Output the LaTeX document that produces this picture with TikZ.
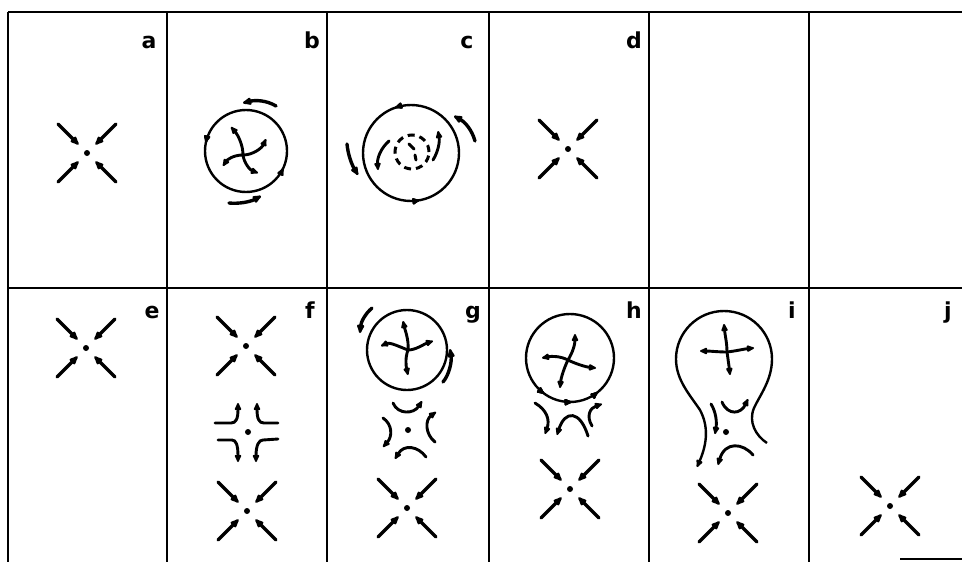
\documentclass[tikz,border=0pt]{standalone}
\usepackage{fontspec}
\setsansfont{DejaVu Sans}
\usetikzlibrary{arrows.meta,decorations.markings}
\begin{document}
\begin{tikzpicture}[x=1pt,y=-1pt,
  frame/.style={line width=2.7pt},
  flow/.style={line width=3.4pt, line cap=round, -{Latex[round,length=12pt,width=9pt]}},
  swirl/.style={line width=2.9pt, line cap=round, -{Latex[round,length=10pt,width=8pt]}},
  ring/.style={line width=2.4pt},
  ringtip/.style={postaction={decorate}, decoration={markings, mark=at position #1 with {\arrow{Latex[round,length=10pt,width=8pt]}}}},
  tag/.style={font=\sffamily\bfseries\fontsize{22}{22}\selectfont, anchor=base, inner sep=0pt},
  sink/.pic={
    \fill (0,0) circle (3);
    \foreach \a in {45,135,225,315} \draw[flow] (\a:41) -- (\a:12);
  }
]
\useasboundingbox (0,0) rectangle (962,562);

% ---------- panel frame ----------
\draw[frame] (8,12) -- (962,12);
\draw[frame] (8,288) -- (962,288);
\foreach \x in {8,167,327,489,649,809} \draw[frame] (\x,12) -- (\x,562);
\draw[line width=2pt] (900,559) -- (962,559);

% ---------- panel letters ----------
\node[tag] (la) at (149,48) {a};
\node[tag] (lb) at (312,48) {b};
\node[tag] (lc) at (467,48) {c};
\node[tag] (ld) at (634,48) {d};
\node[tag] (le) at (152,318) {e};
\node[tag] (lf) at (310,318) {f};
\node[tag] (lg) at (473,318) {g};
\node[tag] (lh) at (634,318) {h};
\node[tag] (li) at (792,318) {i};
\node[tag] (lj) at (948,318) {j};

% ---------- a ----------
\pic at (87,153) {sink};

% ---------- b : ring with swirl ----------
\draw[ring, ringtip=0.467, ringtip=0.93] (287,151) arc[start angle=0, end angle=-360, radius=41];
\draw[swirl] (243,155) .. controls (243,145) and (238,135) .. (231,127);
\draw[swirl] (243,155) .. controls (253,155) and (262,148) .. (266,139);
\draw[swirl] (243,155) .. controls (233,155) and (227,160) .. (223,166);
\draw[swirl] (243,155) .. controls (244,163) and (250,170) .. (258,173);
\draw[flow] (276,106) .. controls (266,100) and (255,100) .. (243,103);
\draw[flow] (229,203) .. controls (238,204) and (250,202) .. (261,196);

% ---------- c : ring with broken swirl ----------
\draw[ring, ringtip=0.303, ringtip=0.778] (459,153) arc[start angle=0, end angle=-360, radius=48];
\draw[flow] (475,141) .. controls (472,130) and (465,122) .. (454,116);
\draw[flow] (347,144) .. controls (348,155) and (352,165) .. (358,175);
\draw[swirl] (389,141) .. controls (381,148) and (377,158) .. (378,170);
\draw[swirl] (433,160) .. controls (438,152) and (440,142) .. (438,131);
\draw[line width=3pt, dash pattern=on 7pt off 5pt] (429,152) arc[start angle=0, end angle=-360, radius=17];
\draw[line width=3pt, line cap=round] (409,144) -- (414,149);
\draw[line width=3pt, line cap=round] (415,155) -- (416,160);

% ---------- d ----------
\pic at (568,149) {sink};

% ---------- e ----------
\pic at (86,348) {sink};

% ---------- f ----------
\pic at (246,346) {sink};
\fill (248,432) circle (3);
\draw[swirl] (215,423) -- (231,423) .. controls (236,423) and (238,419) .. (238,403);
\draw[swirl] (278,423) -- (264,423) .. controls (259,423) and (257,419) .. (257,403);
\draw[swirl] (218,440) -- (232,440) .. controls (236,440) and (238,445) .. (238,462);
\draw[swirl] (278,439) -- (263,440) .. controls (259,440) and (256,445) .. (256,462);
\pic at (247,511) {sink};

% ---------- g ----------
\draw[ring] (447,350) arc[start angle=0, end angle=-360, radius=40];
\draw[swirl] (408,350) .. controls (409,340) and (405,330) .. (403,321);
\draw[swirl] (408,350) .. controls (416,350) and (424,344) .. (433,341);
\draw[swirl] (408,350) .. controls (400,347) and (390,342) .. (381,346);
\draw[swirl] (408,350) .. controls (405,358) and (406,366) .. (408,375);
\draw[flow] (372,308) .. controls (365,314) and (361,322) .. (360,333);
\draw[flow] (443,382) .. controls (449,375) and (452,362) .. (450,349);
\fill (408,430) circle (3);
\draw[swirl] (393,403) .. controls (398,415) and (414,414) .. (422,401);
\draw[swirl] (383,418) .. controls (392,424) and (393,436) .. (383,447);
\draw[swirl] (435,442) .. controls (425,434) and (425,420) .. (436,412);
\draw[swirl] (426,457) .. controls (418,446) and (404,444) .. (395,459);
\pic at (407,508) {sink};

% ---------- h ----------
\draw[ring, ringtip=0.65, ringtip=0.756, ringtip=0.858] (614,358) arc[start angle=0, end angle=-360, radius=44];
\draw[swirl] (568,360) .. controls (573,352) and (575,344) .. (575,334);
\draw[swirl] (568,360) .. controls (576,364) and (586,367) .. (596,368);
\draw[swirl] (568,360) .. controls (560,356) and (552,356) .. (542,358);
\draw[swirl] (568,360) .. controls (564,368) and (561,378) .. (560,388);
\draw[swirl] (535,403) .. controls (547,410) and (550,420) .. (545,434);
\draw[swirl] (588,436) .. controls (580,410) and (565,410) .. (557,435);
\draw[swirl] (592,426) .. controls (586,416) and (590,408) .. (602,404);
\pic at (570,489) {sink};

% ---------- i : bulb ----------
\draw[ring, -{Latex[round,length=10pt,width=8pt]}] (767,443) .. controls (756,436) and (748,422) .. (754,408)
  .. controls (760,395) and (772,380) .. (772,359)
  arc[start angle=0, end angle=-180, radius=48]
  .. controls (676,380) and (690,395) .. (700,410)
  .. controls (708,425) and (708,442) .. (697,467);
\draw[swirl] (727,352) .. controls (727,343) and (725,335) .. (724,324);
\draw[swirl] (727,352) .. controls (736,351) and (744,349) .. (754,348);
\draw[swirl] (727,352) .. controls (718,352) and (710,351) .. (700,351);
\draw[swirl] (727,352) .. controls (728,359) and (729,366) .. (730,375);
\fill (726,432) circle (3);
\draw[swirl] (722,402) .. controls (728,416) and (741,414) .. (748,399);
\draw[swirl] (711,404) .. controls (716,412) and (717,422) .. (715,434);
\draw[swirl] (753,455) .. controls (743,443) and (725,441) .. (718,465);
\pic at (728,513) {sink};

% ---------- j ----------
\pic at (890,506) {sink};

\end{tikzpicture}
\end{document}
